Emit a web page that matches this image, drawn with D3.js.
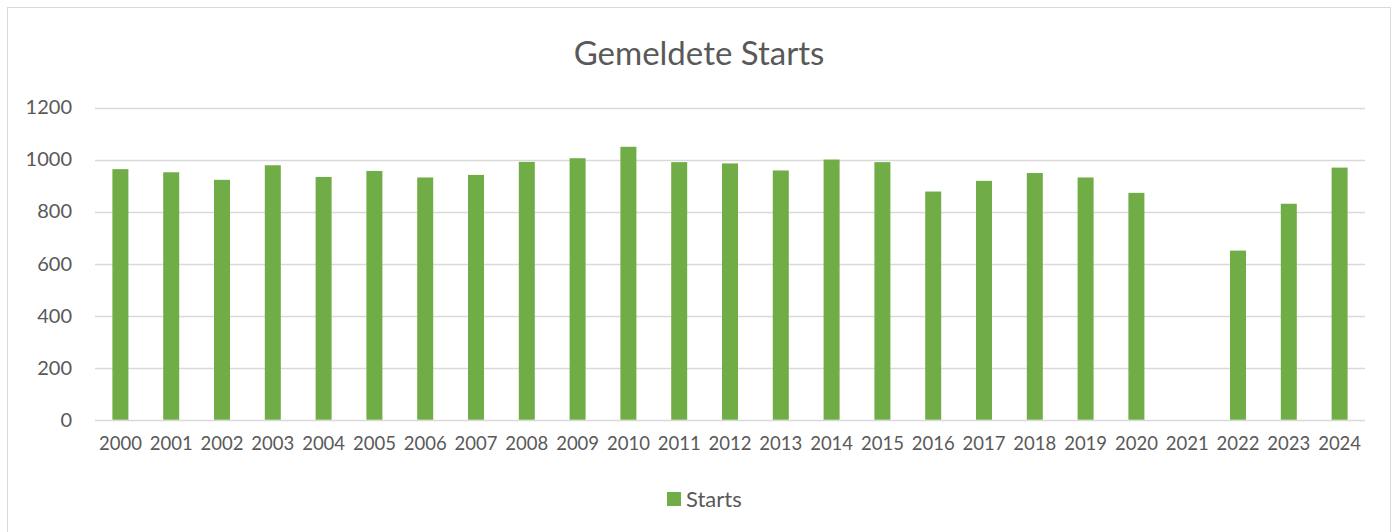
<!DOCTYPE html>
<html>
<head>
<meta charset="utf-8">
<script src="https://cdn.jsdelivr.net/npm/d3@7"></script>
<style>
  body { margin: 0; background: #fff; }
  svg { display: block; font-family: Lato, "Open Sans", sans-serif; }
</style>
</head>
<body>
<svg width="1395" height="532"></svg>
<script>
let years = ["2000","2001","2002","2003","2004","2005","2006","2007","2008","2009","2010","2011","2012",
  "2013","2014","2015","2016","2017","2018","2019","2020","2021","2022","2023","2024"];
let starts = [963, 951, 922, 978, 933, 956, 931, 941, 991, 1005, 1049, 990, 985,
  958, 1000, 990, 877, 918, 948, 931, 872, null, 650, 830, 969];
let yTicks = [0, 200, 400, 600, 800, 1000, 1200];
let title = "Gemeldete Starts";
let seriesName = "Starts";

let svg = d3.select("svg");
let textColor = "#595959";
let barColor = "#70ad47";
let fontFamily = "Lato, 'Open Sans', sans-serif";

// chart frame
svg.append("rect")
  .attr("x", 7.5).attr("y", 7.5)
  .attr("width", 1383).attr("height", 540)
  .attr("fill", "#fff")
  .attr("stroke", "#d9d9d9");

let xScale = d3.scaleBand()
  .domain(years)
  .range([95, 1365])
  .paddingInner(0.685)
  .paddingOuter(0.3425);

let yScale = d3.scaleLinear()
  .domain([0, 1200])
  .range([419.7, 107.5]);

// gridlines
svg.append("g")
  .selectAll("line")
  .data(yTicks)
  .enter()
  .append("line")
  .attr("x1", 95)
  .attr("x2", 1365)
  .attr("y1", d => Math.round(yScale(d)) + 0.5)
  .attr("y2", d => Math.round(yScale(d)) + 0.5)
  .attr("stroke", "#d9d9d9")
  .attr("stroke-width", 1.3);

// y axis
let yAxis = svg.append("g")
  .attr("transform", "translate(95,0)")
  .call(d3.axisLeft(yScale).tickValues(yTicks).tickSize(0).tickPadding(23).tickFormat(d3.format("d")));
yAxis.attr("font-family", fontFamily);
yAxis.select(".domain").remove();
yAxis.selectAll("text")
  .attr("fill", textColor)
  .style("font-size", "20px");

// x axis
let xAxis = svg.append("g")
  .attr("transform", "translate(0,420)")
  .call(d3.axisBottom(xScale).tickSize(0).tickPadding(17));
xAxis.attr("font-family", fontFamily);
xAxis.select(".domain").remove();
xAxis.selectAll("text")
  .attr("fill", textColor)
  .style("font-size", "18.5px");

// bars (2021 has no value)
svg.append("g")
  .selectAll("rect")
  .data(years.map((y, i) => ({ year: y, value: starts[i] })).filter(d => d.value != null))
  .enter()
  .append("rect")
  .attr("x", d => xScale(d.year))
  .attr("y", d => yScale(d.value))
  .attr("width", xScale.bandwidth())
  .attr("height", d => yScale(0) - yScale(d.value))
  .attr("fill", barColor);

// title
svg.append("text")
  .attr("x", 699)
  .attr("y", 65)
  .attr("text-anchor", "middle")
  .attr("fill", textColor)
  .style("font-size", "33px")
  .text(title);

// legend
let legend = svg.append("g").attr("transform", "translate(667,492)");
legend.append("rect")
  .attr("width", 14).attr("height", 14)
  .attr("fill", barColor);
legend.append("text")
  .attr("x", 19)
  .attr("y", 14.5)
  .attr("fill", textColor)
  .style("font-size", "22px")
  .text(seriesName);
</script>
</body>
</html>
